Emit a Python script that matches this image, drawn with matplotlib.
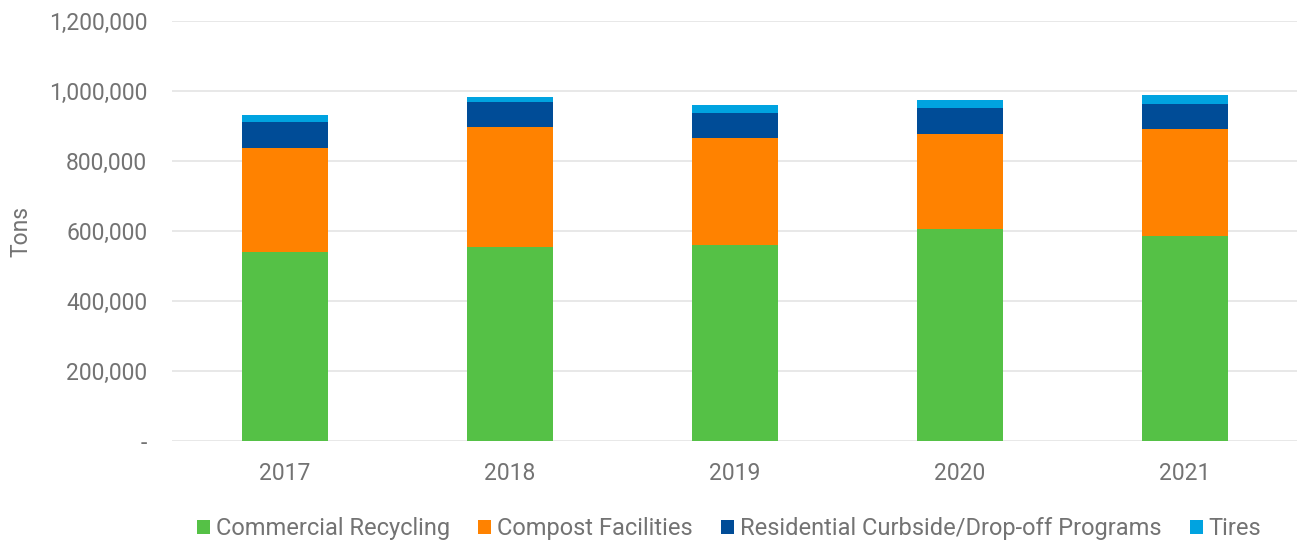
import matplotlib
matplotlib.use("Agg")
import matplotlib.pyplot as plt
from matplotlib.ticker import FuncFormatter, MultipleLocator
import numpy as np

years = ["2017", "2018", "2019", "2020", "2021"]
commercial = [541000, 554000, 560000, 607000, 586000]
compost = [296000, 343000, 307000, 271000, 306000]
residential = [75000, 71000, 70000, 74000, 71000]
tires = [19000, 14000, 24000, 22000, 25000]
series_names = ["Commercial Recycling", "Compost Facilities",
                "Residential Curbside/Drop-off Programs", "Tires"]
colors = ["#55C146", "#FF8200", "#004C97", "#00A3E0"]

plt.rcParams['font.family'] = ['Roboto', 'DejaVu Sans']
text_color = "#737373"

fig = plt.figure(figsize=(12.97, 5.42), dpi=100)
ax = fig.add_axes([0.1329, 0.186, 0.8675, 0.775])

x = np.arange(len(years))
bottom = np.zeros(len(years))
handles = []
for vals, name, c in zip([commercial, compost, residential, tires], series_names, colors):
    b = ax.bar(x, vals, width=0.385, bottom=bottom, color=c, label=name, zorder=3)
    handles.append(b)
    bottom = bottom + np.array(vals)

ax.set_xlim(-0.5, 4.5)
ax.set_ylim(0, 1200000)
ax.yaxis.set_major_locator(MultipleLocator(200000))
ax.yaxis.set_major_formatter(FuncFormatter(lambda v, p: '-' if v == 0 else f'{v:,.0f}'))
ax.set_xticks(x)
ax.set_xticklabels(years)
ax.grid(axis='y', color='#E4E4E4', linewidth=1.2, zorder=0)
for s in ax.spines.values():
    s.set_visible(False)
ax.tick_params(axis='both', length=0, labelsize=16.5, colors=text_color)
ax.tick_params(axis='y', pad=18)
ax.tick_params(axis='x', pad=15)
ax.set_ylabel("Tons", fontsize=16.5, color=text_color)
ax.yaxis.set_label_coords(-0.124, 0.5)

leg = fig.legend(handles=handles, loc='lower center', bbox_to_anchor=(0.562, -0.036),
                 ncol=4, frameon=False, fontsize=17, handlelength=0.55, handleheight=0.55,
                 handletextpad=0.25, columnspacing=1.2)
for t in leg.get_texts():
    t.set_color(text_color)

fig.savefig("out.png", dpi=100)
